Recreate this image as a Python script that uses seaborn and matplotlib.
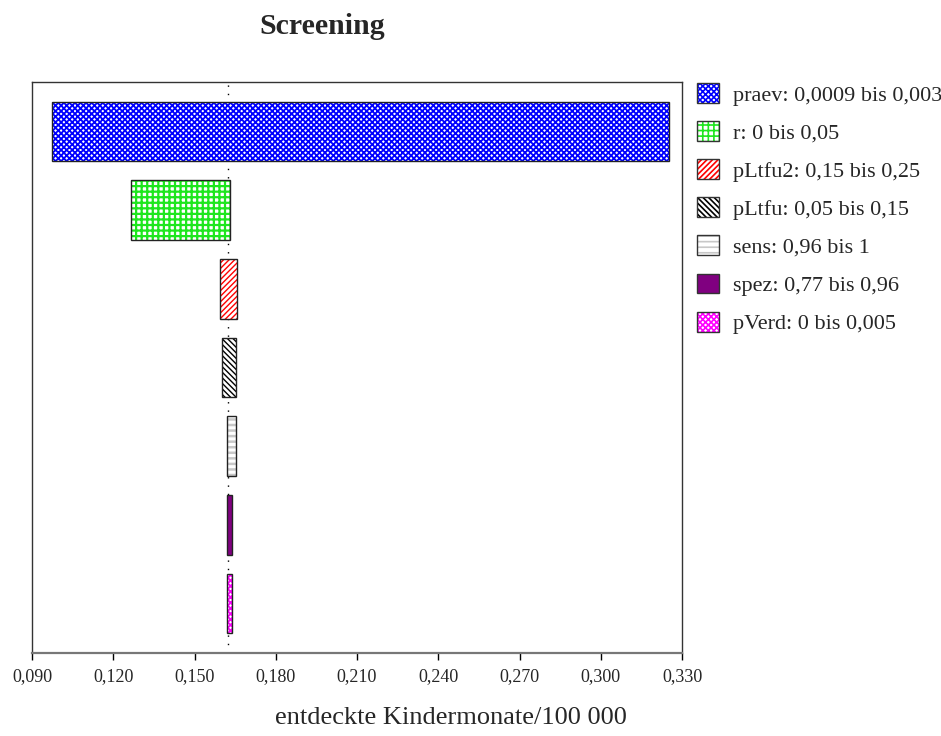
import matplotlib
matplotlib.use("Agg")
import matplotlib.pyplot as plt
from matplotlib.patches import Patch
from matplotlib.legend_handler import HandlerTuple
import numpy as np
import pandas as pd
import seaborn as sns

# Tornado diagram: one-way sensitivity of detected child-months per 100 000
params = ["praev", "r", "pLtfu2", "pLtfu", "sens", "spez", "pVerd"]
ranges = ["0,0009 bis 0,003", "0 bis 0,05", "0,15 bis 0,25", "0,05 bis 0,15",
          "0,96 bis 1", "0,77 bis 0,96", "0 bis 0,005"]
low = [0.0974, 0.1266, 0.1594, 0.1602, 0.1621, 0.1621, 0.1621]
high = [0.3252, 0.1631, 0.1658, 0.1652, 0.1653, 0.1639, 0.1639]
base_value = 0.1624
xticks = [0.090, 0.120, 0.150, 0.180, 0.210, 0.240, 0.270, 0.300, 0.330]

# bar styles: face colour, hatch, hatch colour, hatch line width
faces = ["white", "white", "white", "white", "white", "#800080", "white"]
hatches = ["xxxxxx", "+++", "//////", "\\\\\\\\\\\\", "---", "", "xxxxxx"]
hatch_colors = ["#0000ff", "#1ee61e", "#ff0000", "#000000", "#c8c8c8", "#800080", "#ff00ff"]
hatch_widths = [1.3, 1.6, 1.0, 1.0, 1.8, 1.0, 1.3]

sns.set_theme(style="white")
plt.rcParams["font.family"] = ["Liberation Serif", "DejaVu Serif"]
plt.rcParams["hatch.linewidth"] = 1.2

df = pd.DataFrame({"param": params, "low": low, "high": high})
df["span"] = df["high"] - df["low"]

fig = plt.figure(figsize=(9.41, 7.36), dpi=100)
ax = fig.add_axes([32 / 941, 1 - 653 / 736, 650 / 941, 571 / 736])


def floating_bars(**kws):
    """Draw span bars with seaborn and start each one at its low value."""
    sns.barplot(data=df, x="span", y="param", orient="y", width=0.76,
                errorbar=None, ax=ax, **kws)
    bars = ax.containers[-1]
    for patch, start in zip(bars, df["low"]):
        patch.set_x(start)
    return bars


def style_fill(patch, fc, h, hc, hw):
    patch.set_facecolor(fc)
    patch.set_edgecolor(hc)
    patch.set_hatch(h)
    patch.set_linewidth(0)
    if hasattr(patch, "set_hatch_linewidth"):
        patch.set_hatch_linewidth(hw)


# hatched fill layer
fill_bars = floating_bars(color="white", linewidth=0)
for patch, fc, h, hc, hw in zip(fill_bars, faces, hatches, hatch_colors, hatch_widths):
    style_fill(patch, fc, h, hc, hw)

# outline layer
floating_bars(fill=False, edgecolor="#222222", linewidth=1.0)

# reference value
ax.axvline(base_value, color="black", linestyle=(0, (1, 5)), linewidth=1.0, zorder=0)

ax.set_xlim(0.090, 0.330)
ax.set_ylim(6.63, -0.63)
ax.set_xticks(xticks)
ax.set_xticklabels([f"{t:.3f}".replace(".", ",") for t in xticks], fontsize=13)
ax.tick_params(axis="x", direction="out", length=5, width=1, color="black",
               bottom=True, pad=6)
ax.tick_params(axis="y", left=False, labelleft=False)
ax.set_xlabel("")
ax.set_ylabel("")
for side, sp in ax.spines.items():
    sp.set_visible(True)
    sp.set_color("#333333")
    sp.set_linewidth(1.0)
ax.spines["bottom"].set_color("#777777")
ax.spines["bottom"].set_linewidth(1.6)

fig.text(322 / 941, 1 - 26 / 736, "Screening", ha="center", va="center",
         fontsize=21.5, fontweight="bold")
fig.text(451 / 941, 1 - 718 / 736, "entdeckte Kindermonate/100 000",
         ha="center", va="center", fontsize=19)

handles = []
for fc, h, hc, hw in zip(faces, hatches, hatch_colors, hatch_widths):
    fill = Patch()
    style_fill(fill, fc, h, hc, hw)
    handles.append((fill, Patch(fill=False, edgecolor="#333333", linewidth=1.0)))
labels = [f"{p}: {r}" for p, r in zip(params, ranges)]
fig.legend(handles, labels, handler_map={tuple: HandlerTuple(ndivide=1, pad=0)},
           loc="upper left", bbox_to_anchor=(697 / 941, 1 - 83 / 736),
           frameon=False, fontsize=16, borderpad=0, borderaxespad=0,
           handlelength=1.0, handleheight=1.0, handletextpad=0.63,
           labelspacing=0.7)

fig.savefig("out.png", dpi=100)
